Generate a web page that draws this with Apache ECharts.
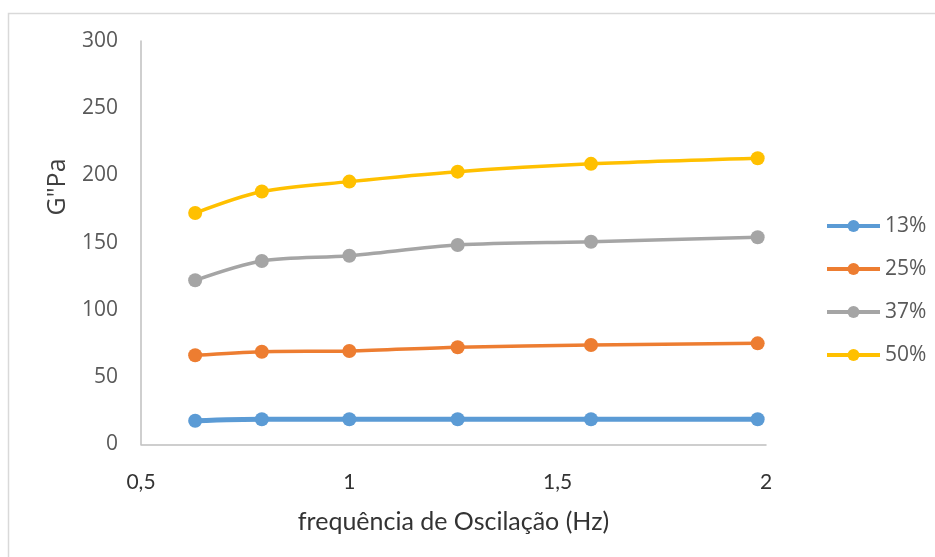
<!DOCTYPE html>
<html>
<head>
<meta charset="utf-8">
<script src="https://cdn.jsdelivr.net/npm/echarts@6/dist/echarts.min.js"></script>
<style>html,body{margin:0;padding:0;background:#fff;}#c{width:935px;height:557px;}</style>
</head>
<body>
<div id="c"></div>
<script>
const freq = [0.63, 0.79, 1.0, 1.26, 1.58, 1.98];
const seriesNames = ['13%', '25%', '37%', '50%'];
const s13 = [17.5, 18.6, 18.6, 18.6, 18.6, 18.6];
const s25 = [66.2, 68.9, 69.4, 72.2, 73.9, 75.1];
const s37 = [122, 136.4, 140.3, 148.3, 150.7, 154];
const s50 = [172, 188, 195.4, 202.8, 208.6, 212.8];
const colors = ['#5b9bd5', '#ed7d31', '#a5a5a5', '#ffc000'];
const yTicks = [0, 50, 100, 150, 200, 250, 300];
const xTicks = [0.5, 1, 1.5, 2];

const allData = [s13, s25, s37, s50];
const chart = echarts.init(document.getElementById('c'));
chart.setOption({
  animation: false,
  graphic: [{
    type: 'rect', shape: {x: 8.5, y: 13.5, width: 1000, height: 700},
    style: {fill: 'none', stroke: '#d9d9d9', lineWidth: 1.5}, silent: true
  }, {
    type: 'text', x: 58, y: 187, rotation: Math.PI / 2,
    style: {text: 'G"Pa', fill: '#404040', font: '25px "Open Sans"', align: 'center', verticalAlign: 'middle'},
    silent: true
  }],
  grid: {left: 141, top: 41, width: 625, height: 403.3, containLabel: false},
  xAxis: {
    type: 'value', min: 0.5, max: 2, interval: 0.5,
    axisLine: {show: true, lineStyle: {color: '#bfbfbf', width: 1.5}},
    axisTick: {show: false}, splitLine: {show: false},
    axisLabel: {margin: 27, color: '#333', fontFamily: 'Lato', fontSize: 21,
      formatter: v => String(v).replace('.', ',')},
    name: 'frequência de Oscilação (Hz)', nameLocation: 'middle', nameGap: 65,
    nameTextStyle: {color: '#333', fontFamily: 'Lato', fontSize: 25}
  },
  yAxis: {
    type: 'value', min: 0, max: 300, interval: 50,
    axisLine: {show: true, lineStyle: {color: '#bfbfbf', width: 1.5}},
    axisTick: {show: false}, splitLine: {show: false},
    axisLabel: {margin: 23, color: '#595959', fontFamily: 'Open Sans', fontSize: 21}
  },
  legend: {
    orient: 'vertical', left: 820, top: 210, itemWidth: 53, itemHeight: 15, itemGap: 21,
    lineStyle: {width: 4},
    textStyle: {color: '#595959', fontFamily: 'Open Sans', fontSize: 21, padding: [0,0,0,0], lineHeight: 22},
    data: seriesNames
  },
  series: seriesNames.map((n, i) => ({
    name: n, type: 'line', smooth: 0.3,
    data: freq.map((x, j) => [x, allData[i][j]]),
    symbol: 'circle', symbolSize: 14,
    lineStyle: {color: colors[i], width: i === 0 ? 5 : 3.5},
    itemStyle: {color: colors[i]}
  }))
});
</script>
</body>
</html>
